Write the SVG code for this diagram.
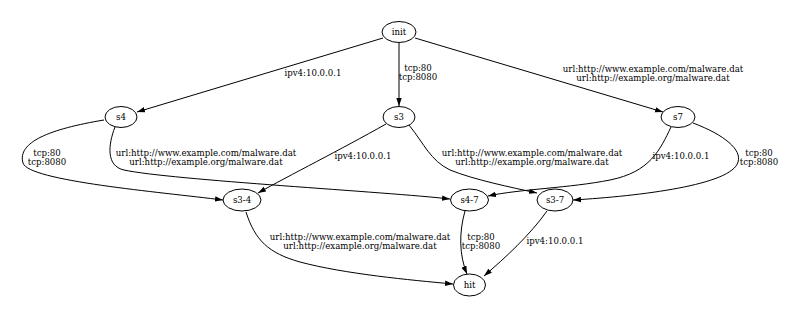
<svg xmlns="http://www.w3.org/2000/svg" width="800" height="317" viewBox="0 0 800 317">
<style>
.n ellipse{fill:none;stroke:#000;stroke-width:1}
text{font-family:"DejaVu Serif","Liberation Serif",serif;font-size:8.6px;fill:#000;text-anchor:middle}
.e path{fill:none;stroke:#000;stroke-width:1;marker-end:url(#ah)}
</style>
<defs>
<marker id="ah" markerWidth="8" markerHeight="6" refX="8" refY="3" orient="auto" markerUnits="userSpaceOnUse"><path d="M0,0.3 L8,3 L0,5.7 z" fill="#000"/></marker>
</defs>
<rect width="800" height="317" fill="#fff"/>
<g id="edges" class="e">
<path d="M383,38 L137,112"/>
<path d="M399,43 L399,106"/>
<path d="M415,38 L663,112"/>
<path d="M104,120 C50,129 17,142 23,163 C28,181 160,192 223,200"/>
<path d="M115,127 C108,145 106,166 124,170 C170,180 390,192 450,199"/>
<path d="M386,124 C340,150 290,175 258,193"/>
<path d="M409,125 C425,145 430,160 450,170 C475,180 510,187 537,193"/>
<path d="M671,127 C660,150 650,172 610,180 C570,188 520,189 488,196"/>
<path d="M693,123 C725,135 742,150 738,162 C732,185 640,196 573,200"/>
<path d="M246,212 C255,240 268,253 300,262 C345,274 410,280 453,284"/>
<path d="M465,211 C459,232 459,255 467,274"/>
<path d="M547,211 C530,235 505,258 484,276"/>
</g>
<g id="labels">
<text x="313" y="76">ipv4:10.0.0.1</text>
<text x="418" y="71">tcp:80</text>
<text x="418" y="80">tcp:8080</text>
<text x="653" y="72">url:http://www.example.com/malware.dat</text>
<text x="653" y="81">url:http://example.org/malware.dat</text>
<text x="47" y="156">tcp:80</text>
<text x="47" y="165">tcp:8080</text>
<text x="206" y="156">url:http://www.example.com/malware.dat</text>
<text x="206" y="165">url:http://example.org/malware.dat</text>
<text x="363" y="159">ipv4:10.0.0.1</text>
<text x="532" y="156">url:http://www.example.com/malware.dat</text>
<text x="532" y="165">url:http://example.org/malware.dat</text>
<text x="681" y="159">ipv4:10.0.0.1</text>
<text x="759" y="156">tcp:80</text>
<text x="759" y="165">tcp:8080</text>
<text x="360" y="240">url:http://www.example.com/malware.dat</text>
<text x="360" y="249">url:http://example.org/malware.dat</text>
<text x="481" y="240">tcp:80</text>
<text x="481" y="249">tcp:8080</text>
<text x="555" y="244">ipv4:10.0.0.1</text>
</g>
<g id="init" class="n"><ellipse cx="399" cy="32" rx="17" ry="10.5"/><text x="399" y="35">init</text></g>
<g id="s4" class="n"><ellipse cx="121" cy="117" rx="16" ry="10.5"/><text x="121" y="120">s4</text></g>
<g id="s3" class="n"><ellipse cx="399" cy="117" rx="16" ry="10.5"/><text x="399" y="120">s3</text></g>
<g id="s7" class="n"><ellipse cx="678" cy="117" rx="17" ry="10.5"/><text x="678" y="120">s7</text></g>
<g id="s3-4" class="n"><ellipse cx="242" cy="200" rx="19" ry="11"/><text x="242" y="203">s3-4</text></g>
<g id="s4-7" class="n"><ellipse cx="469.5" cy="200" rx="19" ry="11"/><text x="469.5" y="203">s4-7</text></g>
<g id="s3-7" class="n"><ellipse cx="555" cy="200" rx="18" ry="11"/><text x="555" y="203">s3-7</text></g>
<g id="hit" class="n"><ellipse cx="469.5" cy="285" rx="16" ry="11"/><text x="469.5" y="288">hit</text></g>
</svg>
